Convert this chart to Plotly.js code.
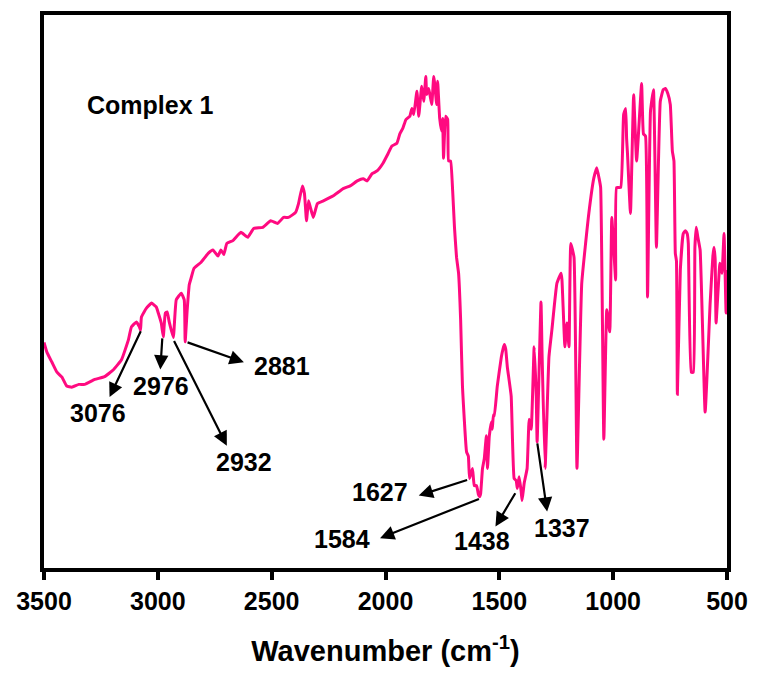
<!DOCTYPE html>
<html>
<head>
<meta charset="utf-8">
<script src="https://cdn.plot.ly/plotly-3.0.1.min.js"></script>
<style>html,body{margin:0;padding:0;background:#fff;}#chart{width:757px;height:673px;}</style>
</head>
<body>
<div id="chart"></div>
<script>
// IR spectrum of Complex 1 (wavenumber in cm^-1, transmittance in arbitrary %)
const wavenumber = [
3500,3487,3465,3443,3421,3400,3378,3347,3321,3277,3234,3194,3159,3129,3116,3094,3081,3076,3072,3050,3028,3007,2998,2985,2976,2967,2959,2950,2932,2919,2897,2884,2880,2871,2862,2854,2841,2810,2779,2758,2736,2723,2710,2697,2670,2635,2605,2579,2539,2504,2474,2448,2426,2395,2382,2365,2356,2347,2338,2330,2317,2299,2273,2229,2186,2155,2124,2098,2081,2059,2037,2011,1989,1972,1950,1937,1924,1910,1893,1884,1876,1862,1854,1841,1832,1823,1819,1810,1797,1788,1775,1771,1762,1753,1749,1745,1736,1727,1723,1714,1705,1697,1688,1679,1670,1662,1644,1636,1631,1618,1610,1600,1592,1587,1582,1574,1566,1557,1552,1544,1535,1531,1526,1522,1509,1491,1484,1478,1472,1465,1448,1435,1426,1421,1413,1404,1400,1391,1378,1369,1360,1347,1338,1334,1317,1312,1299,1282,1269,1247,1229,1225,1212,1203,1194,1186,1172,1159,1138,1107,1085,1072,1062,1055,1041,1028,1015,1006,989,985,967,954,945,941,937,924,910,897,875,867,858,849,836,823,810,793,780,771,760,749,740,733,727,722,718,705,692,683,675,670,657,648,641,635,628,618,596,574,562,557,552,548,531,522,513,504,500
];
const transmittance = [
40.8,39.0,37.2,35.4,34.5,32.9,32.7,33.2,33.2,34.1,34.6,35.9,37.7,41.3,43.6,44.5,43.6,43.0,45.4,47.0,47.9,47.2,46.1,44.3,41.8,46.1,46.3,44.5,41.7,48.5,49.7,48.5,40.9,46.7,51.2,52.4,54.2,55.3,56.9,57.5,56.4,57.5,56.7,58.7,59.2,60.7,59.8,61.4,61.6,62.8,62.3,63.4,63.4,64.3,65.9,69.1,67.7,62.8,66.4,65.2,63.4,65.9,66.4,67.3,68.6,69.1,70.0,70.4,70.0,71.3,71.8,73.2,74.9,76.3,76.8,78.5,79.5,81.1,81.7,83.1,82.0,86.2,81.7,87.1,84.4,88.9,85.6,86.7,83.8,88.9,83.8,88.0,81.3,79.0,81.3,74.1,81.7,81.1,73.6,73.6,68.2,61.6,56.2,53.3,44.9,32.9,21.0,20.2,16.2,18.0,14.9,14.9,13.3,12.9,13.5,18.0,19.8,23.9,18.0,23.9,26.4,25.1,27.7,27.5,32.9,38.2,39.6,40.4,39.6,36.4,31.1,16.2,15.8,14.4,16.5,13.8,12.2,15.3,18.0,26.9,25.1,40.0,31.1,22.8,48.1,38.2,18.0,38.2,43.1,51.5,53.3,52.2,40.0,44.3,40.0,58.7,56.2,18.0,51.5,64.1,70.5,72.4,70.5,68.8,23.3,46.7,42.7,63.4,52.1,68.8,68.8,82.0,83.1,77.7,74.9,64.1,85.6,73.6,87.6,78.5,78.1,49.0,82.6,86.5,58.0,84.4,86.5,86.7,85.8,83.8,75.4,73.6,56.9,55.5,31.4,53.9,60.5,61.0,60.5,58.7,35.4,35.4,58.0,61.6,59.8,57.5,28.2,47.9,56.4,58.0,55.8,44.3,55.1,53.3,60.5,46.1,53.9
];
const tickValues = [3500, 3000, 2500, 2000, 1500, 1000, 500];
const sampleLabel = 'Complex 1';
// peak labels with their arrow tail (on the curve), arrow head and label position
const peakLabels = ['3076','2976','2932','2881','1627','1584','1438','1337'];
const arrowTailX = [3072, 2980, 2932, 2876, 1635, 1583, 1426, 1334];
const arrowTailY = [43.1, 41.8, 41.3, 40.9, 16.0, 12.6, 13.8, 22.8];
const arrowHeadX = [3212, 2989, 2697, 2622, 1854, 2024, 1517, 1290];
const arrowHeadY = [30.9, 35.9, 22.1, 37.2, 13.1, 5.4, 7.5, 10.2];
const labelX = [3262, 2985, 2622, 2456, 2024, 2192, 1574, 1225];
const labelY = [28.0, 33.0, 19.2, 36.6, 13.8, 5.2, 4.8, 7.2];

const FONT = 'Liberation Sans, Arial, Helvetica, sans-serif';
const annotations = [];
for (let i = 0; i < peakLabels.length; i++) {
  annotations.push({
    x: arrowHeadX[i], y: arrowHeadY[i], xref: 'x', yref: 'y',
    ax: arrowTailX[i], ay: arrowTailY[i], axref: 'x', ayref: 'y',
    text: '', showarrow: true, arrowhead: 2, arrowsize: 1.3, arrowwidth: 2.2,
    arrowcolor: '#000', standoff: 0, startstandoff: 0
  });
  annotations.push({
    x: labelX[i], y: labelY[i], xref: 'x', yref: 'y', text: peakLabels[i],
    showarrow: false, xanchor: 'center', yanchor: 'middle',
    font: {family: FONT, size: 25, color: '#000', weight: 'bold'}
  });
}
annotations.push({
  x: 3318, y: 83.8, xref: 'x', yref: 'y', text: sampleLabel, showarrow: false,
  xanchor: 'left', yanchor: 'middle',
  font: {family: FONT, size: 25, color: '#000', weight: 'bold'}
});

const trace = {
  x: wavenumber, y: transmittance, type: 'scatter', mode: 'lines',
  line: {color: '#ff0a80', width: 3, shape: 'spline', smoothing: 0.35}, hoverinfo: 'skip'
};

const layout = {
  width: 757, height: 673,
  margin: {l: 44, r: 30, t: 15, b: 105},
  paper_bgcolor: '#fff', plot_bgcolor: '#fff',
  showlegend: false,
  xaxis: {
    range: [3500, 500], tickvals: tickValues, ticktext: tickValues.map(String),
    ticks: 'outside', ticklen: 8, tickwidth: 4, tickcolor: '#000',
    showline: true, linewidth: 4, linecolor: '#000', mirror: true,
    showgrid: false, zeroline: false,
    tickfont: {family: FONT, size: 25, color: '#000', weight: 'bold'},
    title: {text: 'Wavenumber (cm<sup>-1</sup>)', standoff: 28,
      font: {family: FONT, size: 29, color: '#000', weight: 'bold'}}
  },
  yaxis: {
    range: [0, 100], showticklabels: false, ticks: '',
    showline: true, linewidth: 4, linecolor: '#000', mirror: true,
    showgrid: false, zeroline: false
  },
  annotations: annotations
};

Plotly.newPlot('chart', [trace], layout, {staticPlot: true, displayModeBar: false});
</script>
</body>
</html>
